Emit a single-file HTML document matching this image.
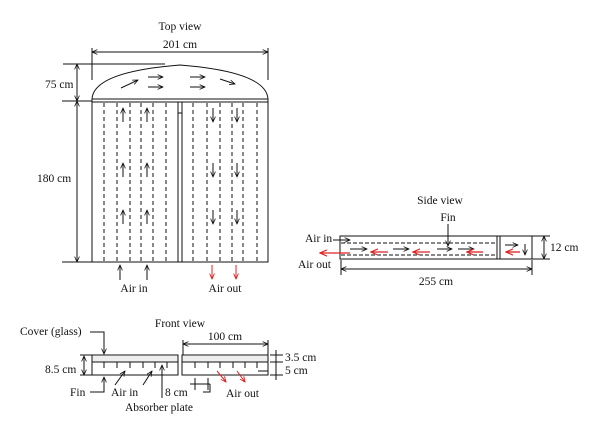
<!DOCTYPE html>
<html><head><style>body{margin:0;background:#fff}svg{display:block}text{font-family:"Liberation Serif",serif;font-size:11.5px;fill:#111}</style></head>
<body>
<svg width="600" height="440" viewBox="0 0 600 440" xmlns="http://www.w3.org/2000/svg">
<defs>
<marker id="a" viewBox="0 0 10 10" refX="9" refY="5" markerWidth="6" markerHeight="6" orient="auto-start-reverse"><path d="M0,1 L9,5 L0,9" fill="none" stroke="#111" stroke-width="1.3"/></marker>
<marker id="r" viewBox="0 0 10 10" refX="9" refY="5" markerWidth="6" markerHeight="6" orient="auto-start-reverse"><path d="M0,1 L9,5 L0,9" fill="none" stroke="#e02020" stroke-width="1.5"/></marker>
</defs>
<g stroke="#111" fill="none" stroke-width="1">
<!-- Top view -->
<path d="M92,100 Q92,72 180,65 Q268,72 268,100"/>
<path d="M63,64 L165,64"/>
<rect x="92" y="99" width="176" height="163"/>
<line x1="92" y1="102" x2="268" y2="102"/>
<line x1="178" y1="102" x2="178" y2="262"/><line x1="182" y1="102" x2="182" y2="262"/>
<line x1="178" y1="113" x2="182" y2="113"/>
<g stroke-dasharray="4,3">
<path d="M104,103V262M117,103V262M130,103V262M141,103V262M153,103V262M166,103V262M193,103V262M207,103V262M220,103V262M232,103V262M243,103V262M257,103V262"/>
</g>
<g marker-end="url(#a)">
<line x1="123" y1="122" x2="123" y2="108"/><line x1="147" y1="122" x2="147" y2="108"/>
<line x1="123" y1="177" x2="123" y2="163"/><line x1="147" y1="177" x2="147" y2="163"/>
<line x1="123" y1="224" x2="123" y2="210"/><line x1="147" y1="224" x2="147" y2="210"/>
<line x1="213" y1="108" x2="213" y2="122"/><line x1="237" y1="108" x2="237" y2="122"/>
<line x1="213" y1="163" x2="213" y2="177"/><line x1="237" y1="163" x2="237" y2="177"/>
<line x1="213" y1="210" x2="213" y2="224"/><line x1="237" y1="210" x2="237" y2="224"/>
<line x1="120" y1="280" x2="120" y2="265"/><line x1="147" y1="280" x2="147" y2="265"/>
<line x1="121" y1="88" x2="138" y2="80"/>
<line x1="148" y1="77" x2="163" y2="77"/><line x1="148" y1="87" x2="163" y2="87"/>
<line x1="190" y1="77" x2="205" y2="77"/><line x1="190" y1="87" x2="205" y2="87"/>
<line x1="220" y1="79" x2="235" y2="84"/>
</g>
<g stroke="#e02020" marker-end="url(#r)">
<line x1="212" y1="265" x2="212" y2="279"/><line x1="236" y1="265" x2="236" y2="279"/>
</g>
<!-- dims top -->
<line x1="92" y1="52" x2="268" y2="52" marker-start="url(#a)" marker-end="url(#a)"/>
<line x1="92" y1="48" x2="92" y2="80"/><line x1="268" y1="48" x2="268" y2="80"/>
<line x1="77" y1="64" x2="77" y2="101" marker-start="url(#a)" marker-end="url(#a)"/>
<line x1="77" y1="101" x2="77" y2="262" marker-start="url(#a)" marker-end="url(#a)"/>
<line x1="62" y1="101" x2="92" y2="101"/><line x1="62" y1="262" x2="92" y2="262"/>
<!-- Side view -->
<rect x="340" y="236" width="192" height="23"/>
<line x1="497" y1="236" x2="497" y2="259"/><line x1="500" y1="236" x2="500" y2="259"/>
<g stroke-dasharray="4,2"><path d="M341,243H497M341,255H497"/></g>
<g marker-end="url(#a)">
<line x1="350" y1="249" x2="367" y2="249"/><line x1="393" y1="249" x2="409" y2="249"/>
<line x1="437" y1="249" x2="452" y2="249"/><line x1="458" y1="249" x2="474" y2="249"/>
<line x1="505" y1="245" x2="518" y2="245"/><line x1="448" y1="224" x2="448" y2="246"/>
<line x1="333" y1="240" x2="350" y2="240"/><line x1="525" y1="244" x2="525" y2="255"/>
</g>
<g stroke="#e02020" stroke-width="1.3" marker-end="url(#r)">
<line x1="388" y1="252" x2="371" y2="252"/><line x1="430" y1="252" x2="413" y2="252"/>
<line x1="483" y1="252" x2="467" y2="252"/><line x1="520" y1="252" x2="506" y2="252"/>
<line x1="350" y1="253" x2="320" y2="253"/>
</g>
<line x1="532" y1="236" x2="550" y2="236"/><line x1="532" y1="259" x2="550" y2="259"/>
<line x1="544" y1="236" x2="544" y2="259" marker-start="url(#a)" marker-end="url(#a)"/>
<line x1="341" y1="269" x2="532" y2="269" marker-start="url(#a)" marker-end="url(#a)"/>
<line x1="341" y1="260" x2="341" y2="275"/><line x1="532" y1="260" x2="532" y2="275"/>
<!-- Front view -->
<rect x="92" y="356" width="86" height="6" fill="#eee" stroke="none"/>
<rect x="182" y="356" width="86" height="6" fill="#eee" stroke="none"/>
<rect x="92" y="355" width="86" height="20"/><line x1="92" y1="362" x2="178" y2="362"/>
<rect x="182" y="355" width="86" height="20"/><line x1="182" y1="362" x2="268" y2="362"/>
<path d="M104,362V368M117,362V368M130,362V368M143,362V368M155,362V368M167,362V368M195,362V368M208,362V368M220,362V368M233,362V368M245,362V368M257,362V368"/>
<path d="M258,371H268"/>
<path d="M90,332H104V354" marker-end="url(#a)"/>
<path d="M90,392H104V377" marker-end="url(#a)"/>
<line x1="115" y1="385" x2="125" y2="371" marker-end="url(#a)"/>
<line x1="143" y1="385" x2="152" y2="371" marker-end="url(#a)"/>
<line x1="162" y1="398" x2="162" y2="365" marker-end="url(#a)"/>
<g stroke="#e02020" marker-end="url(#r)">
<line x1="217" y1="371" x2="226" y2="382"/><line x1="237" y1="371" x2="245" y2="382"/>
</g>
<path d="M190,384H210M195,378V390M208,378V390"/>
<path d="M210,384V392H203"/>
<line x1="183" y1="344" x2="268" y2="344" marker-start="url(#a)" marker-end="url(#a)"/>
<line x1="183" y1="340" x2="183" y2="355"/><line x1="268" y1="340" x2="268" y2="355"/>
<line x1="84" y1="356" x2="84" y2="375" marker-start="url(#a)" marker-end="url(#a)"/>
<line x1="80" y1="355" x2="92" y2="355"/><line x1="80" y1="375" x2="92" y2="375"/>
<line x1="276" y1="350" x2="276" y2="380"/>
<path d="M270,355H283M270,362H283M270,375H283"/>
</g>
<text x="180" y="30" text-anchor="middle">Top view</text>
<text x="180" y="48" text-anchor="middle">201 cm</text>
<text x="45" y="88">75 cm</text>
<text x="37" y="182">180 cm</text>
<text x="134" y="292" text-anchor="middle">Air in</text>
<text x="225" y="292" text-anchor="middle">Air out</text>
<text x="440" y="204" text-anchor="middle">Side view</text>
<text x="448" y="221" text-anchor="middle">Fin</text>
<text x="305" y="242">Air in</text>
<text x="298" y="268">Air out</text>
<text x="550" y="251">12 cm</text>
<text x="436" y="285" text-anchor="middle">255 cm</text>
<text x="180" y="327" text-anchor="middle">Front view</text>
<text x="20" y="335">Cover (glass)</text>
<text x="45" y="373">8.5 cm</text>
<text x="70" y="396">Fin</text>
<text x="111" y="396">Air in</text>
<text x="165" y="396">8 cm</text>
<text x="125" y="411">Absorber plate</text>
<text x="226" y="397">Air out</text>
<text x="225" y="340" text-anchor="middle">100 cm</text>
<text x="285" y="361">3.5 cm</text>
<text x="285" y="374">5 cm</text>
</svg>
</body></html>
